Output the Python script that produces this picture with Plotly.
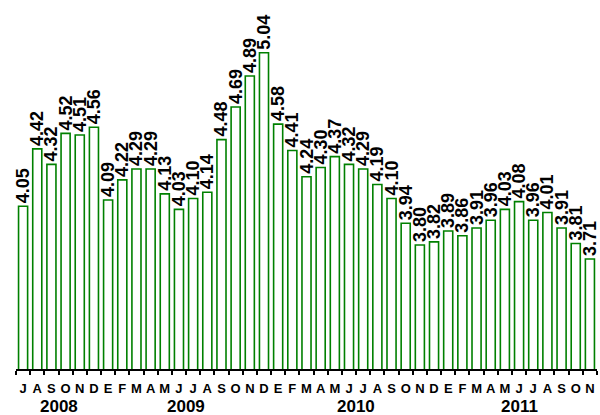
import plotly.graph_objects as go

# Monthly values, July 2008 - November 2011
months = ["J", "A", "S", "O", "N", "D",
          "E", "F", "M", "A", "M", "J", "J", "A", "S", "O", "N", "D",
          "E", "F", "M", "A", "M", "J", "J", "A", "S", "O", "N", "D",
          "E", "F", "M", "A", "M", "J", "J", "A", "S", "O", "N"]
values = [4.05, 4.42, 4.32, 4.52, 4.51, 4.56,
          4.09, 4.22, 4.29, 4.29, 4.13, 4.03, 4.10, 4.14, 4.48, 4.69, 4.89, 5.04,
          4.58, 4.41, 4.24, 4.30, 4.37, 4.32, 4.29, 4.19, 4.10, 3.94, 3.80, 3.82,
          3.89, 3.86, 3.91, 3.96, 4.03, 4.08, 3.96, 4.01, 3.91, 3.81, 3.71]
years = ["2008", "2009", "2010", "2011"]
year_counts = [6, 12, 12, 11]

x = list(range(len(values)))
FONT = "Liberation Sans, Arial, sans-serif"
GREEN = "#008000"

fig = go.Figure()
fig.add_trace(go.Bar(
    x=x,
    y=values,
    width=0.64,
    marker=dict(color="white", line=dict(color=GREEN, width=1.6)),
    text=[f"{v:.2f}" for v in values],
    textposition="outside",
    textangle=-90,
    constraintext="none",
    cliponaxis=False,
    textfont=dict(family=FONT, size=18, color="black", weight="bold"),
    hoverinfo="skip",
))

# year labels centred under each group of months
start = 0
for yr, n in zip(years, year_counts):
    mid = start + (n - 1) / 2
    fig.add_annotation(
        x=mid, y=0, xref="x", yref="paper",
        text=yr, showarrow=False, yanchor="top", yshift=-26,
        font=dict(family=FONT, size=17, color="black", weight="bold"),
    )
    start += n

fig.update_layout(
    width=600, height=415,
    margin=dict(l=16, r=3, t=4, b=46),
    paper_bgcolor="white", plot_bgcolor="white",
    showlegend=False,
    xaxis=dict(
        range=[-0.5, len(values) - 0.5],
        tickmode="array", tickvals=x, ticktext=months,
        ticks="", showgrid=False, zeroline=False,
        showline=True, linecolor="black", linewidth=2,
        ticklabelstandoff=6,
        tickfont=dict(family=FONT, size=13, color="black", weight="bold"),
        minor=dict(ticks="outside", tickmode="linear", tick0=-0.5, dtick=1,
                   ticklen=4, tickwidth=1.5, tickcolor="black", showgrid=False),
    ),
    yaxis=dict(
        range=[3, 5.355], visible=False, showgrid=False, zeroline=False,
    ),
)

fig.write_html("out.html")
